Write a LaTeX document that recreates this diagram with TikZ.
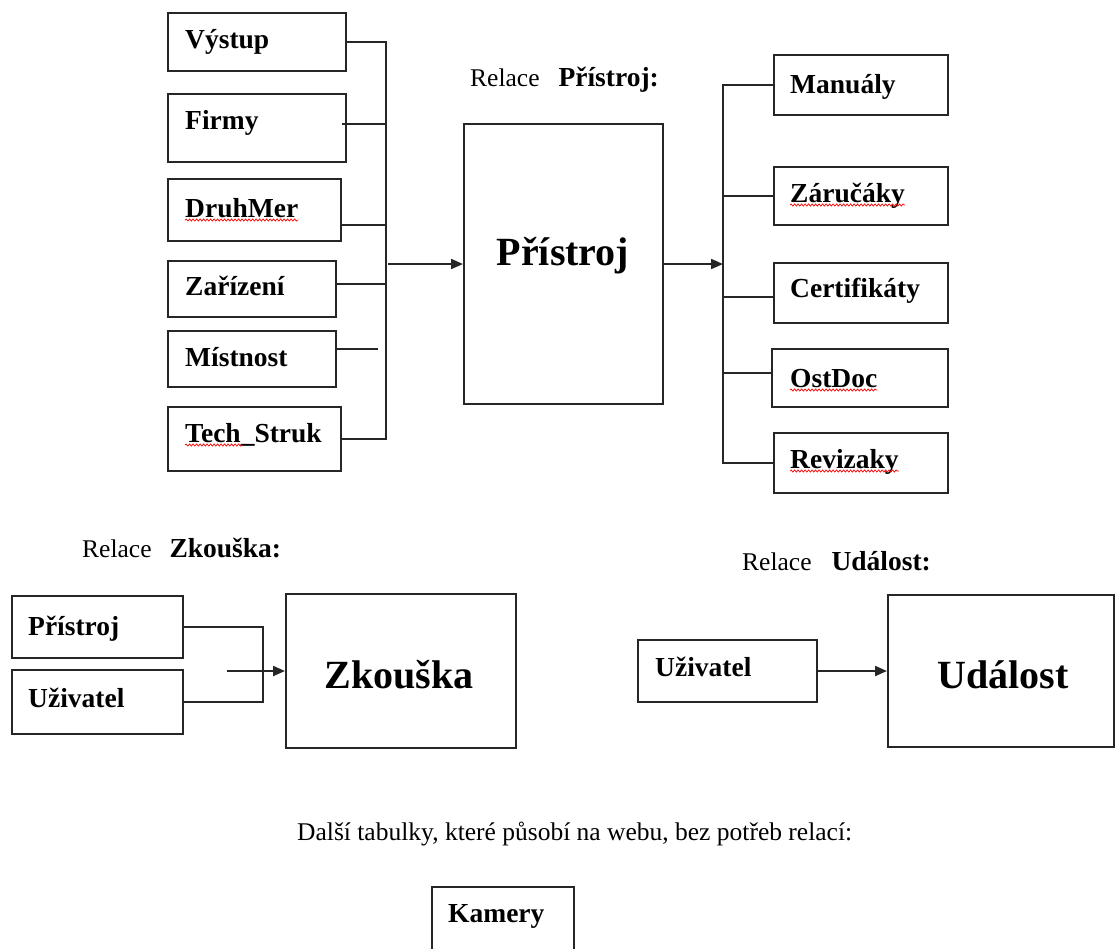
\documentclass[tikz,border=0pt]{standalone}
\usepackage{fontspec}
\setmainfont{Liberation Serif}
\usetikzlibrary{arrows.meta,decorations.pathmorphing}
\begin{document}
\begin{tikzpicture}[x=1pt,y=-1pt,
  box/.style={draw=black!85, line width=2pt, anchor=north west, inner sep=0pt},
  lbl/.style={anchor=base west, inner sep=0pt, font=\fontsize{27.5}{30}\selectfont\bfseries},
  big/.style={anchor=base, inner sep=0pt, font=\fontsize{40}{44}\selectfont\bfseries},
  rel/.style={anchor=base west, inner sep=0pt, font=\fontsize{25.5}{28}\selectfont},
  conn/.style={draw=black!85, line width=2pt},
  arr/.style={conn, -{Triangle[length=12pt,width=10pt]}},
  wavy/.style={draw=red, line width=0.7pt, decorate, decoration={snake, amplitude=1.1pt, segment length=3.5pt}}
]
\useasboundingbox (0,0) rectangle (1115,948);

% ---------- Relace Pristroj ----------
\node[rel] (relP) at (470,86.5) {Relace\hspace{19pt}{\fontsize{27.5}{30}\selectfont\bfseries Přístroj:}};

\node[box, minimum width=178, minimum height=58] (vystup) at (167,12) {};
\node[box, minimum width=178, minimum height=68] (firmy) at (167,93) {};
\node[box, minimum width=173, minimum height=62] (druhmer) at (167,178) {};
\node[box, minimum width=168, minimum height=56] (zarizeni) at (167,260) {};
\node[box, minimum width=168, minimum height=56] (mistnost) at (167,330) {};
\node[box, minimum width=173, minimum height=64] (techstruk) at (167,406) {};

\node[lbl] (vystupT) at (185,48) {Výstup};
\node[lbl] (firmyT) at (185,129) {Firmy};
\node[lbl] (druhmerT) at (185,217) {DruhMer};
\node[lbl] (zarizeniT) at (185,295) {Zařízení};
\node[lbl] (mistnostT) at (185,366) {Místnost};
\node[lbl] (techstrukT) at (185,442) {Tech\_Struk};

\node[box, minimum width=199, minimum height=280] (pristroj) at (463,123) {};
\node[big] (pristrojT) at (563,265) {Přístroj};

\node[box, minimum width=174, minimum height=60] (manualy) at (773,54) {};
\node[box, minimum width=174, minimum height=58] (zarucaky) at (773,166) {};
\node[box, minimum width=174, minimum height=60] (certifikaty) at (773,262) {};
\node[box, minimum width=176, minimum height=58] (ostdoc) at (771,348) {};
\node[box, minimum width=174, minimum height=60] (revizaky) at (773,432) {};

\node[lbl] (manualyT) at (790,93) {Manuály};
\node[lbl] (zarucakyT) at (790,202) {Záručáky};
\node[lbl] (certifikatyT) at (790,297) {Certifikáty};
\node[lbl] (ostdocT) at (790,387) {OstDoc};
\node[lbl] (revizakyT) at (790,468) {Revizaky};

% spelling underlines
\draw[wavy] ([yshift=-3pt]druhmerT.base west) -- ([yshift=-3pt]druhmerT.base east);
\draw[wavy] ([yshift=-3pt]techstrukT.base west) -- ++(58,0);
\draw[wavy] ([yshift=-3pt]zarucakyT.base west) -- ([yshift=-3pt]zarucakyT.base east);
\draw[wavy] ([yshift=-3pt]ostdocT.base west) -- ([yshift=-3pt]ostdocT.base east);
\draw[wavy] ([yshift=-3pt]revizakyT.base west) -- ([yshift=-3pt]revizakyT.base east);

% left bus
\coordinate (lbus) at (386,0);
\draw[conn] (vystup.east) -| (lbus |- techstruk.east) -- (techstruk.east);
\draw[conn] ([xshift=-5pt,yshift=4pt]firmy.east) -- ([yshift=4pt]firmy.east -| lbus);
\draw[conn] ([yshift=-15pt]druhmer.east) -- ([yshift=-15pt]druhmer.east -| lbus);
\draw[conn] ([yshift=5pt]zarizeni.east) -- ([yshift=5pt]zarizeni.east -| lbus);
\draw[conn] ([yshift=10pt]mistnost.east) -- ([xshift=-8pt,yshift=10pt]mistnost.east -| lbus);
\draw[arr] ([xshift=2pt]lbus |- pristroj.west) -- (pristroj.west);

% right bus
\coordinate (rbus) at (723,0);
\draw[conn] (manualy.west) -| (rbus |- revizaky.west) -- (revizaky.west);
\draw[conn] (rbus |- zarucaky.west) -- (zarucaky.west);
\draw[conn] ([yshift=-4pt]rbus |- certifikaty.west) -- ([yshift=-4pt]certifikaty.west);
\draw[conn] ([yshift=5pt]rbus |- ostdoc.west) -- ([yshift=5pt]ostdoc.west);
\draw[arr] (pristroj.east) -- (rbus |- pristroj.east);

% ---------- Relace Zkouska ----------
\node[rel] (relZ) at (82,557) {Relace\hspace{18pt}{\fontsize{27.5}{30}\selectfont\bfseries Zkouška:}};
\node[box, minimum width=171, minimum height=62] (pristroj2) at (11,595) {};
\node[box, minimum width=171, minimum height=64] (uzivatel2) at (11,669) {};
\node[box, minimum width=230, minimum height=154] (zkouska) at (285,593) {};
\node[lbl] (pristroj2T) at (28,635) {Přístroj};
\node[lbl] (uzivatel2T) at (28,707) {Uživatel};
\node[big] (zkouskaT) at (399,688) {Zkouška};

\coordinate (zbus) at (263,0);
\coordinate (zstart) at ([xshift=-58pt]zkouska.west);
\draw[conn] (pristroj2.east) -| (zbus |- uzivatel2.east) -- (uzivatel2.east);
\draw[arr] (zstart) -- (zkouska.west);

% ---------- Relace Udalost ----------
\node[rel] (relU) at (742,570) {Relace\hspace{20pt}{\fontsize{27.5}{30}\selectfont\bfseries Událost:}};
\node[box, minimum width=179, minimum height=62] (uzivatel3) at (637,639) {};
\node[box, minimum width=226, minimum height=152] (udalost) at (887,594) {};
\node[lbl] (uzivatel3T) at (655,676) {Uživatel};
\node[big] (udalostT) at (1003,688) {Událost};
\draw[arr] (uzivatel3.east) -- (udalost.west);

% ---------- Other tables ----------
\node[rel] (dalsi) at (297,840) {Další tabulky, které působí na webu, bez potřeb relací:};
\node[box, minimum width=142, minimum height=100] (kamery) at (431,886) {};
\node[lbl] (kameryT) at (448,922) {Kamery};

\end{tikzpicture}
\end{document}
